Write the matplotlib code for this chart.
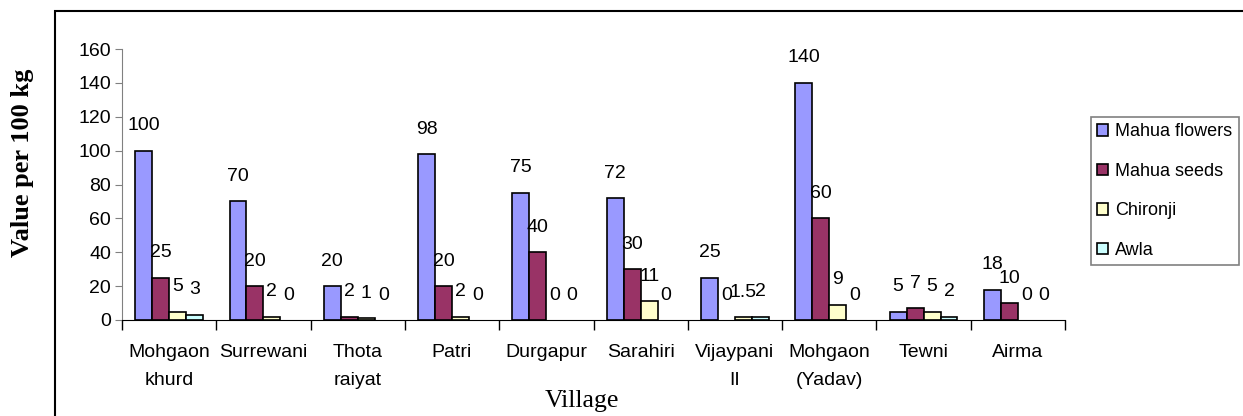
import numpy as np
import matplotlib
matplotlib.use("Agg")
import matplotlib.pyplot as plt
from matplotlib.patches import Rectangle

# Daten
villages = ["Mohgaon\nkhurd", "Surrewani", "Thota\nraiyat", "Patri", "Durgapur",
            "Sarahiri", "Vijaypani\nII", "Mohgaon\n(Yadav)", "Tewni", "Airma"]
mahua_flowers = [100, 70, 20, 98, 75, 72, 25, 140, 5, 18]
mahua_seeds = [25, 20, 2, 20, 40, 30, 0, 60, 7, 10]
chironji = [5, 2, 1, 2, 0, 11, 1.5, 9, 5, 0]
awla = [3, 0, 0, 0, 0, 0, 2, 0, 2, 0]

series_names = ["Mahua flowers", "Mahua seeds", "Chironji", "Awla"]
series_values = [mahua_flowers, mahua_seeds, chironji, awla]
colors = ["#9999FF", "#993366", "#FFFFCC", "#CCFFFF"]

plt.rcParams["font.family"] = ["Liberation Sans", "DejaVu Sans"]

fig = plt.figure(figsize=(12.43, 4.16), dpi=100)
ax = fig.add_axes([122 / 1243, 1 - 320 / 416, (1065 - 122) / 1243, (320 - 49) / 416])

x = np.arange(len(villages))
width = 0.18
for k, (name, vals, col) in enumerate(zip(series_names, series_values, colors)):
    pos = x + (k - 1.5) * width
    bars = ax.bar(pos, vals, width, color=col, edgecolor="black", linewidth=1.2, label=name)
    for b, xp, v in zip(bars, pos, vals):
        if v == 0:
            b.set_visible(False)   # Excel zeichnet keine Nullbalken
        ax.annotate("{:g}".format(v), (xp, v), xytext=(0, 18), textcoords="offset points",
                    ha="center", va="center", fontsize=14)

ax.set_xlim(-0.5, len(villages) - 0.5)
ax.set_ylim(0, 160)
ax.set_yticks(np.arange(0, 161, 20))
ax.set_xticks(x)
ax.set_xticklabels(villages, fontsize=14, linespacing=1.9)
ax.set_xticks(np.arange(-0.5, len(villages), 1), minor=True)
ax.tick_params(axis="x", which="major", length=0, pad=17)
ax.tick_params(axis="x", which="minor", length=7, width=1, color="black")
ax.tick_params(axis="y", labelsize=14, length=5, color="#808080", pad=3)

ax.spines["top"].set_visible(False)
ax.spines["right"].set_visible(False)
ax.spines["left"].set_color("#808080")
ax.spines["bottom"].set_color("black")

# Achsenbeschriftungen
fig.text(23 / 1243, 1 - 163 / 416, "Value per 100 kg", rotation=90, ha="center", va="center",
         fontsize=19, fontweight="bold", family=["Liberation Serif", "DejaVu Serif"])
fig.text(582 / 1243, 1 - 401 / 416, "Village", ha="center", va="center",
         fontsize=18.5, family=["Liberation Serif", "DejaVu Serif"])

# Rahmen
fig.patches.append(Rectangle((55 / 1243, -0.1), 1.0, 1.1 - 11 / 416,
                             transform=fig.transFigure, fill=False,
                             edgecolor="black", linewidth=1.5))

# Legende
leg = fig.legend(loc="upper left", bbox_to_anchor=(1082 / 1243, 1 - 108 / 416),
                 fontsize=13, labelspacing=1.25, handlelength=0.6, handleheight=0.6,
                 handletextpad=0.4, borderpad=0.35, fancybox=False, framealpha=1)
leg.get_frame().set_edgecolor("#808080")
leg.get_frame().set_linewidth(1.2)

fig.savefig("out.png", dpi=100)
